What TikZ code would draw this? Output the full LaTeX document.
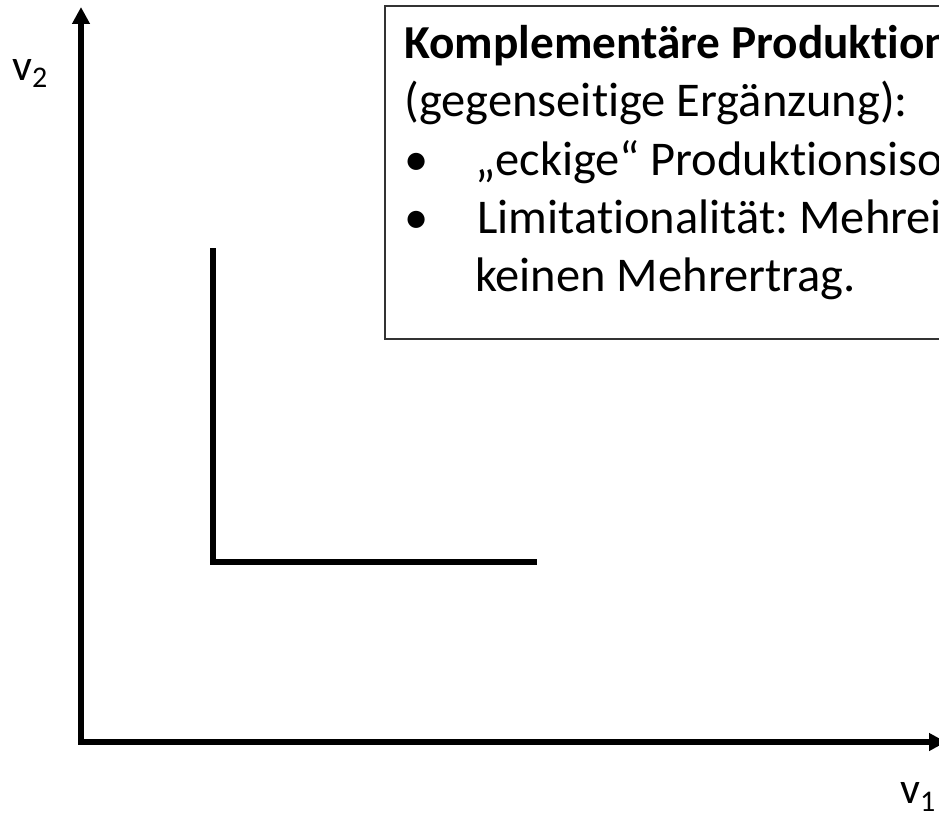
\documentclass[tikz,border=0pt]{standalone}
\usepackage{fontspec}
\setmainfont[Ligatures=NoCommon]{Carlito}
\usetikzlibrary{arrows.meta}
\begin{document}
\frenchspacing
\begin{tikzpicture}[x=1pt,y=-1pt,
  axisline/.style={line width=5.5pt, line join=miter,
    {Triangle[width=17pt,length=17pt]}-{Triangle[width=17pt,length=17pt]}},
  isoline/.style={line width=5.5pt, line join=miter},
  boxline/.style={draw=black!80, line width=1.6pt},
  txt/.style={inner sep=0pt, anchor=base west, font=\fontsize{48.5}{58}\selectfont},
  axlabel/.style={inner sep=0pt, anchor=base west, font=\fontsize{44}{50}\selectfont}]
\useasboundingbox (0,0) rectangle (939,816);
\clip (0,0) rectangle (939,816);
% info box
\coordinate (boxA) at (385,6);
\coordinate (boxB) at (990,339);
\draw[boxline, fill=white] (boxA) rectangle (boxB);
\node[txt, font=\fontsize{47.3}{58}\selectfont\bfseries] (t1) at (404,58.5) {Komplementäre Produktion};
\node[txt] (t2) at (404,116.5) {(gegenseitige Ergänzung):};
\node[txt] (b1) at (404,175) {•};
\node[txt] (t3) at (475,175) {„eckige“ Produktionsiso};
\node[txt] (b2) at (404,233.5) {•};
\node[txt] (t4) at (477,233.5) {Limitationalität: Mehrei};
\node[txt] (t5) at (475,291.5) {keinen Mehrertrag.};
% axes
\coordinate (ytip) at (81,7);
\coordinate (O) at (81,742);
\coordinate (xtip) at (946,742);
\draw[axisline] (ytip) -- (O) -- (xtip);
\node[axlabel] (v2) at (12,80) {v\raisebox{-8pt}{\fontsize{30}{30}\selectfont 2}};
\node[axlabel] (v1) at (900,803) {v\raisebox{-8pt}{\fontsize{30}{30}\selectfont 1}};
% isoquant
\coordinate (Ltop) at (213,248);
\coordinate (Lcorner) at (213,562);
\coordinate (Lright) at (537,562);
\draw[isoline] (Ltop) -- (Lcorner) -- (Lright);
\end{tikzpicture}
\end{document}
